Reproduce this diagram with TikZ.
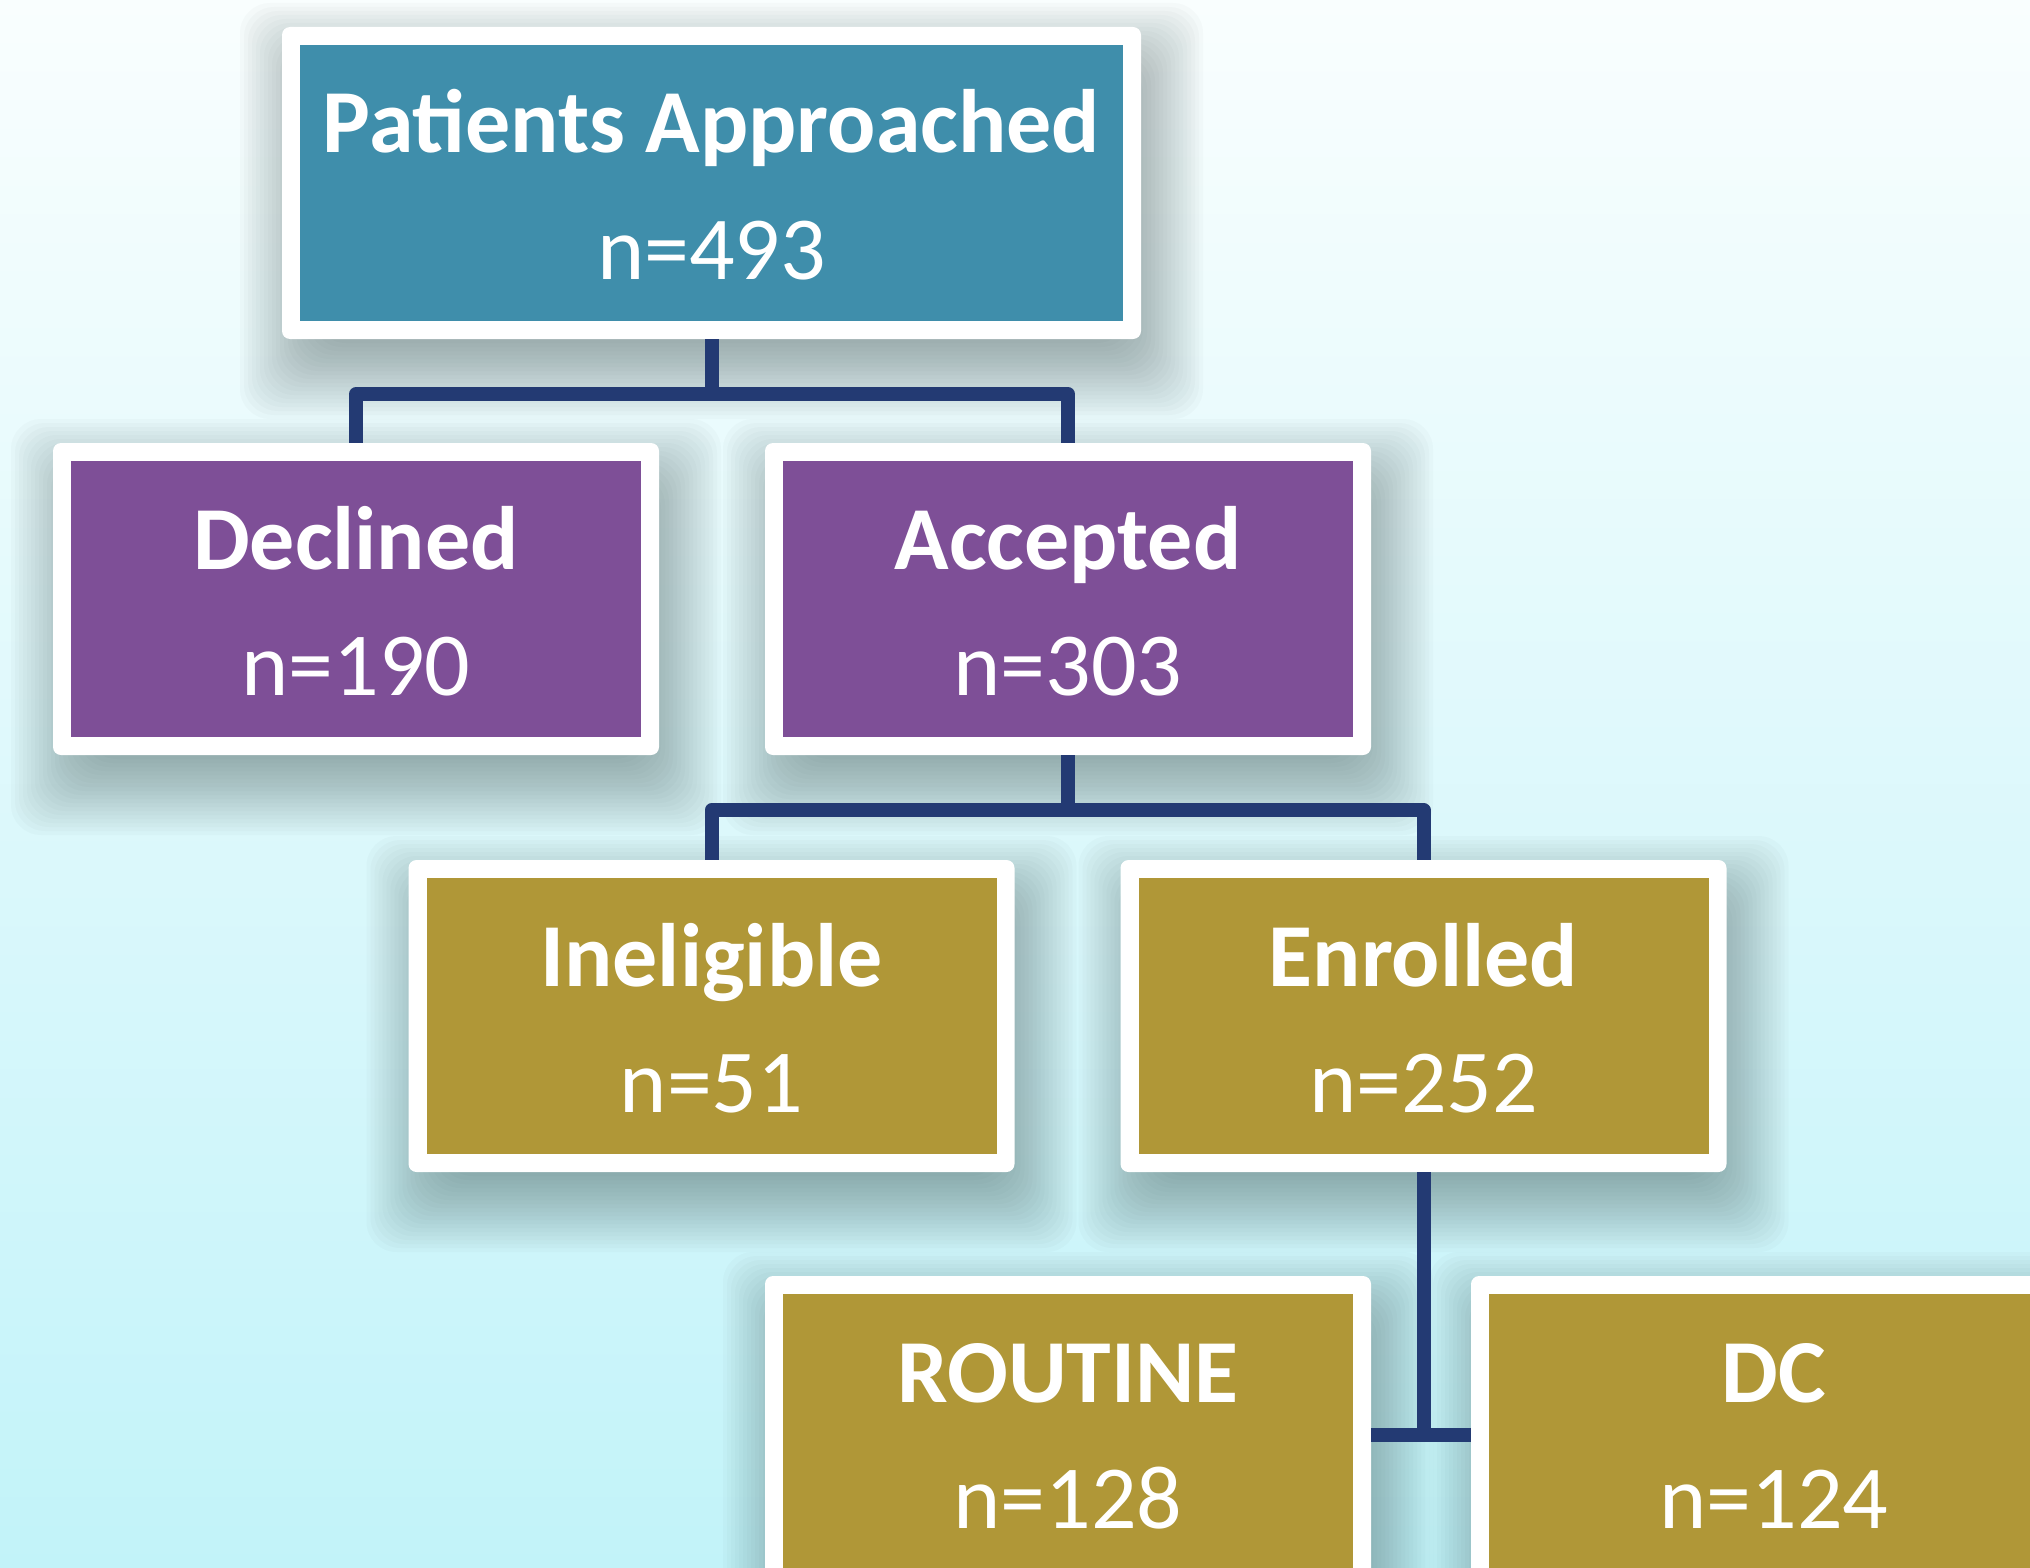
\documentclass[tikz,border=0pt]{standalone}
\usepackage{fontspec}
\setmainfont{Carlito}
\usetikzlibrary{calc}
\definecolor{bgtop}{HTML}{F9FEFE}
\definecolor{bgmid}{HTML}{DDF8F9}
\definecolor{bgbot}{HTML}{C2F3F9}
\definecolor{tealbox}{HTML}{3F8EAB}
\definecolor{purplebox}{HTML}{7E4F97}
\definecolor{olivebox}{HTML}{B09737}
\definecolor{navyline}{HTML}{233A73}
\definecolor{shadowc}{HTML}{2F4545}
% name, centre x, top y, outer width, fill colour, title, number
\newcommand\mkbox[7]{%
  \foreach \k in {0,...,23}{%
    \fill[shadowc, fill opacity=0.022, rounded corners=30pt]
      (#2-#4/2-52+4*\k+10, #3-52+4*\k+28) rectangle (#2+#4/2+52-4*\k+10, #3+312+52-4*\k+28);
  }
  \node[outerbox, minimum width=#4] (#1) at (#2,#3+156) {};
  \node[innerbox, minimum width=#4-36, fill=#5] (#1-in) at (#1) {};
  \node[titletext] (#1-t) at (#2,#3+126) {#6};
  \node[numtext] (#1-n) at (#2,#3+252) {#7};
}
\begin{document}
\begin{tikzpicture}[x=1pt,y=-1pt,
  outerbox/.style={rectangle, fill=white, rounded corners=8pt, minimum height=312pt, inner sep=0pt},
  innerbox/.style={rectangle, minimum height=276pt, inner sep=0pt},
  titletext/.style={anchor=base, text=white, font=\fontsize{90}{100}\selectfont\bfseries, inner sep=0pt},
  numtext/.style={anchor=base, text=white, font=\fontsize{90}{100}\selectfont, inner sep=0pt},
  conn/.style={draw=navyline, line width=14pt, line join=round}]
\shade[top color=bgtop, middle color=bgmid, bottom color=bgbot] (0,0) rectangle (2030,1568);
\useasboundingbox (0,0) rectangle (2030,1568);
\clip (0,0) rectangle (2030,1568);
\mkbox{pa}{711.5}{27}{859}{tealbox}{Patients Approached}{n=493}
\mkbox{de}{356}{443}{606}{purplebox}{Declined}{n=190}
\mkbox{ac}{1068}{443}{606}{purplebox}{Accepted}{n=303}
\mkbox{ine}{711.5}{860}{606}{olivebox}{Ineligible}{n=51}
\mkbox{en}{1423.5}{860}{606}{olivebox}{Enrolled}{n=252}
\mkbox{ro}{1068}{1276}{606}{olivebox}{ROUTINE}{n=128}
\mkbox{dc}{1774}{1276}{606}{olivebox}{DC}{n=124}
\coordinate (j1) at ($(pa.south)+(0,55)$);
\coordinate (j2) at ($(ac.south)+(0,55)$);
\coordinate (j3) at ($(en.south)+(0,263)$);
\draw[conn] (pa.south) -- (j1);
\draw[conn] (de.north) |- (j1) -| (ac.north);
\draw[conn] (ac.south) -- (j2);
\draw[conn] (ine.north) |- (j2) -| (en.north);
\draw[conn] (en.south) -- (j3);
\draw[conn] (ro.east |- j3) -- (dc.west |- j3);
\end{tikzpicture}
\end{document}
